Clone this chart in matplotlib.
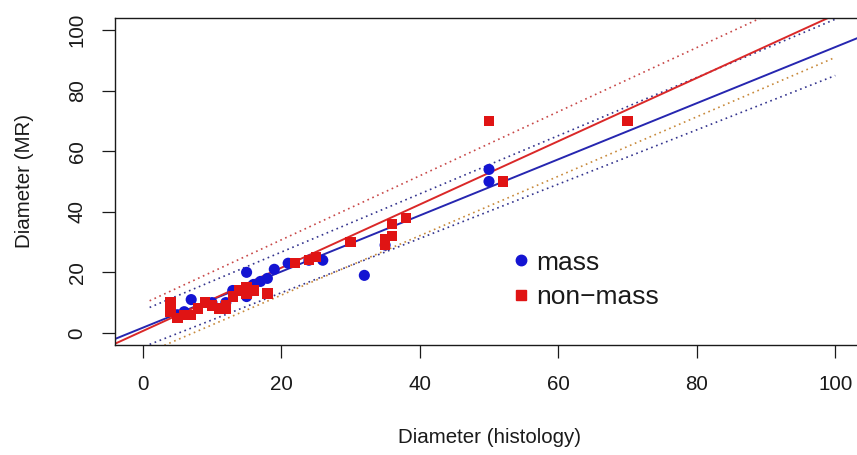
import matplotlib
matplotlib.use("Agg")
import matplotlib.pyplot as plt
from matplotlib.lines import Line2D
import numpy as np

plt.rcParams["font.family"] = ["Liberation Sans", "DejaVu Sans"]

# Lesion diameters (mm): histology vs MR, by lesion type
mass_hist = [5, 6, 7, 10, 12, 13, 15, 15, 16, 17, 18, 19, 21, 24, 26, 32, 35, 50, 50]
mass_mr = [6, 7, 11, 10, 10, 14, 20, 12, 16, 17, 18, 21, 23, 24, 24, 19, 29, 50, 54]

nonmass_hist = [4, 4, 5, 6, 7, 8, 9, 10, 11, 12, 12, 13, 14, 15, 15, 16, 18,
                22, 24, 25, 30, 35, 35, 36, 36, 38, 50, 52, 70]
nonmass_mr = [10, 7, 5, 6, 6, 8, 10, 9, 8, 9, 8, 12, 14, 15, 13, 14, 13,
              23, 24, 25, 30, 29, 31, 32, 36, 38, 70, 50, 70]

# Regression fits (intercept, slope)
mass_fit = [1.7, 0.927]
nonmass_fit = [0.6, 1.045]

# Interval limits: x range and y values at both ends
band_x = [1, 100]
mass_upper = [8.4, 103.6]
mass_lower = [-3.8, 85.0]
nonmass_upper = [10.6, 115.4]
nonmass_lower = [-6.2, 91.0]

BLUE = "#1414D2"
RED = "#E01414"

fig = plt.figure(figsize=(8.57, 4.55), dpi=100)
ax = fig.add_axes([115 / 857, (455 - 345) / 455, (863 - 115) / 857, (345 - 18) / 455])
ax.set_xlim(-4, 104)
ax.set_ylim(-4, 104)

xs = np.array(ax.get_xlim())
ax.plot(xs, mass_fit[0] + mass_fit[1] * xs, color="#2626B0", lw=1.4, zorder=2)
ax.plot(xs, nonmass_fit[0] + nonmass_fit[1] * xs, color="#DA2828", lw=1.4, zorder=2)

dots = (0, (1, 2.2))
ax.plot(band_x, mass_upper, color="#34348E", lw=1.2, ls=dots, zorder=1)
ax.plot(band_x, mass_lower, color="#34348E", lw=1.2, ls=dots, zorder=1)
ax.plot(band_x, nonmass_upper, color="#C84848", lw=1.2, ls=dots, zorder=1)
ax.plot(band_x, nonmass_lower, color="#C88A3C", lw=1.2, ls=dots, zorder=1)

ax.scatter(mass_hist, mass_mr, s=64, marker="o", color=BLUE, edgecolors="none", zorder=3)
ax.scatter(nonmass_hist, nonmass_mr, s=56, marker="s", color=RED, edgecolors="none", zorder=4)

for side in ("left", "top", "bottom", "right"):
    ax.spines[side].set_linewidth(1.0)
    ax.spines[side].set_color("#1a1a1a")

ax.set_xticks(range(0, 101, 20))
ax.set_yticks(range(0, 101, 20))
ax.tick_params(direction="out", length=9.4, width=0.9, color="#1a1a1a",
               labelsize=14.8, labelcolor="#1a1a1a")
ax.tick_params(axis="x", pad=12)
ax.tick_params(axis="y", pad=11)
for lbl in ax.get_yticklabels():
    lbl.set_rotation(90)
    lbl.set_va("center")

ax.set_xlabel("Diameter (histology)", fontsize=14.8, color="#1a1a1a", labelpad=25)
ax.set_ylabel("Diameter (MR)", fontsize=14.8, color="#1a1a1a", labelpad=24)

handles = [
    Line2D([], [], marker="o", ls="none", color=BLUE, markersize=7.5),
    Line2D([], [], marker="s", ls="none", color=RED, markersize=6.8),
]
ax.legend(handles, ["mass", "non\u2212mass"], loc="upper left",
          bbox_to_anchor=(0.500, 0.345), frameon=False, fontsize=19,
          handlelength=1.0, handletextpad=0.1, labelspacing=0.4,
          borderpad=0.2, labelcolor="#1a1a1a")

fig.savefig("out.png", dpi=100)
